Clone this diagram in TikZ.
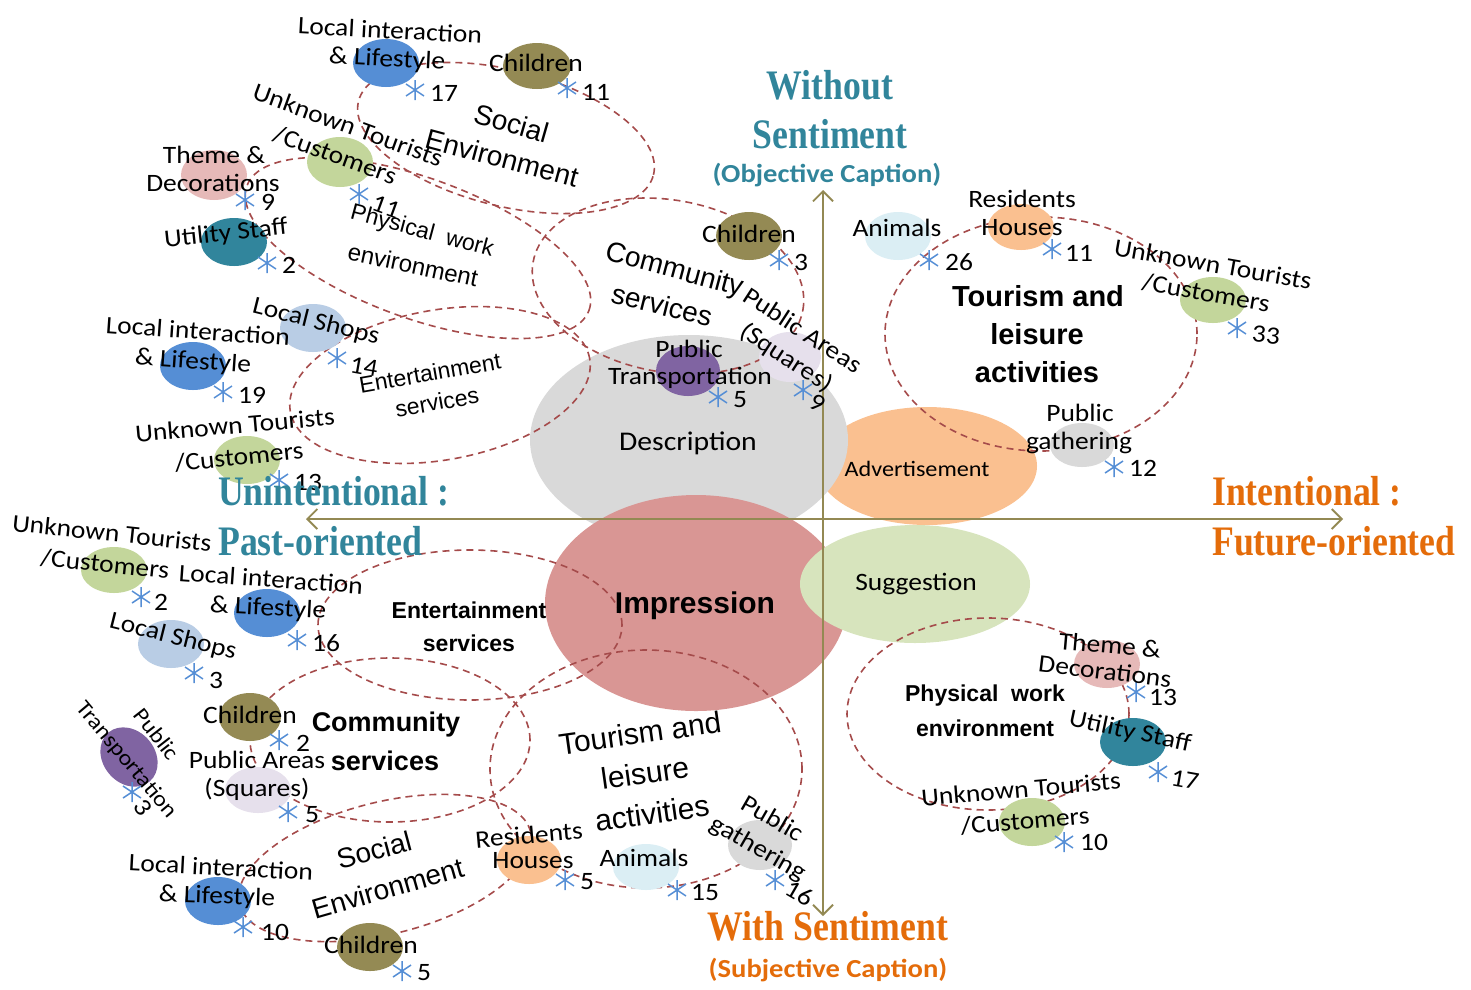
\documentclass[tikz,border=0pt]{standalone}
\usepackage{fontspec}
\setmainfont{Carlito}[FakeStretch=1.1]
\newfontfamily\titlefont{Liberation Serif}[FakeStretch=0.85]
\newfontfamily\catfont{Liberation Sans}
\usepackage{tikz}
\usetikzlibrary{arrows.meta,shapes.geometric}
\definecolor{axiscol}{RGB}{147,137,83}
\definecolor{dashcol}{RGB}{165,75,75}
\definecolor{starblue}{RGB}{85,142,213}
\definecolor{tealtxt}{RGB}{49,133,155}
\definecolor{orangetxt}{RGB}{228,108,10}
\definecolor{cDesc}{RGB}{217,217,217}
\definecolor{cAdv}{RGB}{250,192,144}
\definecolor{cImp}{RGB}{217,150,148}
\definecolor{cSug}{RGB}{215,228,189}
\definecolor{cLife}{RGB}{85,142,213}
\definecolor{cChild}{RGB}{148,138,84}
\definecolor{cTour}{RGB}{195,214,155}
\definecolor{cTheme}{RGB}{230,185,184}
\definecolor{cUtil}{RGB}{49,133,156}
\definecolor{cShop}{RGB}{185,205,229}
\definecolor{cTrans}{RGB}{128,100,162}
\definecolor{cArea}{RGB}{230,224,236}
\definecolor{cAnim}{RGB}{219,238,244}
\definecolor{cHouse}{RGB}{250,192,144}
\definecolor{cGath}{RGB}{217,217,217}
\tikzset{
	big/.style={ellipse, inner sep=0pt},
	bub/.style={ellipse, minimum width=66pt, minimum height=48pt, inner sep=0pt},
	lbl/.style={font=\fontsize{25}{28}\selectfont, inner sep=0pt},
	cat/.style={font=\catfont\fontsize{#1}{#1}\selectfont, inner sep=0pt},
	cat/.default=28,
	catb/.style={font=\catfont\bfseries\fontsize{#1}{#1}\selectfont, inner sep=0pt},
	catb/.default=28,
	grp/.style={dashcol, line width=1.6pt, dash pattern=on 7pt off 5pt},
	axis/.style={axiscol, line width=1.8pt, {Straight Barb[length=10pt,width=20pt]}-{Straight Barb[length=10pt,width=20pt]}},
	ttl/.style={font=\titlefont\bfseries\fontsize{42}{46}\selectfont, inner sep=0pt, anchor=base},
	sub/.style={font=\bfseries\fontsize{26}{30}\selectfont, inner sep=0pt, anchor=base},
	astk/.pic={\draw[starblue, line width=1.5pt] (0,-10)--(0,10) (-9,-6)--(9,6) (-9,6)--(9,-6);}
}
\begin{document}
\begin{tikzpicture}[x=1pt, y=1pt]
	\useasboundingbox (0,0) rectangle (1471,-989);
	% big bubbles
	\node[big, fill=cAdv, minimum width=220pt, minimum height=118pt] (adv) at (927,-466) {};
	\node[big, fill=cDesc, minimum width=318pt, minimum height=210pt] (desc) at (689,-440) {};
	\node[big, fill=cImp, minimum width=302pt, minimum height=216pt] (imp) at (696,-603) {};
	\node[big, fill=cSug, minimum width=230pt, minimum height=118pt] (sug) at (915,-584) {};
	% dashed groups, upper half
	\draw[grp, rotate around={-14:(506,-138)}] (506,-138) ellipse (152 and 68);
	\draw[grp, rotate around={-20:(418,-248)}] (418,-248) ellipse (182 and 70);
	\draw[grp, rotate around={10:(440,-385)}] (440,-385) ellipse (152 and 75);
	\draw[grp, rotate around={-10:(668,-286)}] (668,-286) ellipse (137 and 86);
	\draw[grp] (1041,-334) ellipse (156 and 117);
	% dashed groups, lower half
	\draw[grp] (470,-625) ellipse (152 and 75);
	\draw[grp] (390,-740) ellipse (140 and 82);
	\draw[grp, rotate around={14:(385,-868)}] (385,-868) ellipse (150 and 66);
	\draw[grp] (646,-769) ellipse (156 and 119);
	\draw[grp] (988,-714) ellipse (141 and 96);
	% axes
	\coordinate (xl) at (306,-519);
	\coordinate (xr) at (1343,-519);
	\coordinate (yt) at (823,-190);
	\coordinate (yb) at (823,-916);
	\draw[axis] (xl) -- (xr);
	\draw[axis] (yt) -- (yb);
	% small bubbles
	\node[bub, fill=cLife] (b1) at (386,-63) {};
	\node[bub, fill=cChild, minimum width=68pt, minimum height=46pt] (b2) at (537,-66) {};
	\node[bub, fill=cTour, minimum height=50pt] (b3) at (340,-162) {};
	\node[bub, fill=cTheme, minimum height=50pt] (b4) at (214,-175) {};
	\node[bub, fill=cUtil] (b5) at (234,-242) {};
	\node[bub, fill=cShop] (b6) at (313,-328) {};
	\node[bub, fill=cLife] (b7) at (193,-366) {};
	\node[bub, fill=cTour] (b8) at (247,-460) {};
	\node[bub, fill=cChild] (b9) at (749,-236) {};
	\node[bub, fill=cTrans, minimum width=64pt, minimum height=50pt] (b10) at (688,-371) {};
	\node[bub, fill=cArea, minimum width=62pt, minimum height=50pt] (b11) at (790,-357) {};
	\node[bub, fill=cAnim] (b12) at (898,-236) {};
	\node[bub, fill=cHouse, minimum height=46pt] (b13) at (1021,-227) {};
	\node[bub, fill=cTour, minimum height=46pt] (b14) at (1213,-300) {};
	\node[bub, fill=cGath, minimum width=64pt, minimum height=44pt] (b15) at (1082,-445) {};
	\node[bub, fill=cTour, minimum height=46pt] (b16) at (114,-570) {};
	\node[bub, fill=cLife] (b17) at (267,-613) {};
	\node[bub, fill=cShop] (b18) at (171,-644) {};
	\node[bub, fill=cTrans, rotate=-50, minimum width=64pt, minimum height=52pt] (b19) at (129,-757) {};
	\node[bub, fill=cChild, minimum width=62pt] (b20) at (250,-717) {};
	\node[bub, fill=cArea, minimum height=46pt] (b21) at (258,-790) {};
	\node[bub, fill=cLife] (b22) at (218,-901) {};
	\node[bub, fill=cChild] (b23) at (370,-947) {};
	\node[bub, fill=cHouse, minimum width=64pt] (b24) at (529,-860) {};
	\node[bub, fill=cAnim, minimum height=46pt] (b25) at (646,-867) {};
	\node[bub, fill=cGath, minimum width=64pt, minimum height=50pt] (b26) at (760,-845) {};
	\node[bub, fill=cTheme] (b27) at (1107,-664) {};
	\node[bub, fill=cUtil] (b28) at (1133,-742) {};
	\node[bub, fill=cTour] (b29) at (1032,-822) {};
	% stars
	\foreach \sx/\sy in {415/90, 567/88, 359/194, 245/200, 267/263, 337/358, 223/392, 279/480,
		779/260, 718/397, 803/390, 929/260, 1052/249, 1237/328, 1114/467,
		141/597, 297/640, 194/673, 132/792, 279/740, 288/812, 243/927, 402/971, 565/880, 677/890, 775/880,
		1136/692, 1158/772, 1064/842}
		\pic at (\sx,-\sy) {astk};
	% bubble texts, upper left
	\node[lbl, rotate=-3] (t1a) at (390,-30) {Local interaction};
	\node[lbl, rotate=-3] (t1b) at (387,-60) {\& Lifestyle};
	\node[lbl] (n1) at (444,-93) {17};
	\node[lbl] (t2) at (536,-63) {Children};
	\node[lbl] (n2) at (596,-92) {11};
	\node[lbl, rotate=-20] (t3a) at (348,-125) {Unknown Tourists};
	\node[lbl, rotate=-20] (t3b) at (335,-155) {/Customers};
	\node[lbl, rotate=-20] (n3) at (386,-207) {11};
	\node[lbl] (t4a) at (214,-155) {Theme \&};
	\node[lbl] (t4b) at (213,-183) {Decorations};
	\node[lbl] (n4) at (268,-202) {9};
	\node[lbl, rotate=6] (t5) at (226,-234) {Utility Staff};
	\node[lbl] (n5) at (289,-265) {2};
	\node[lbl, rotate=-14] (t6) at (316,-322) {Local Shops};
	\node[lbl, rotate=-10] (n6) at (364,-367) {14};
	\node[lbl, rotate=-4] (t7a) at (198,-331) {Local interaction};
	\node[lbl, rotate=-4] (t7b) at (193,-362) {\& Lifestyle};
	\node[lbl] (n7) at (252,-395) {19};
	\node[lbl, rotate=5] (t8a) at (235,-425) {Unknown Tourists};
	\node[lbl, rotate=6] (t8b) at (239,-457) {/Customers};
	\node[lbl] (n8) at (308,-482) {13};
	% bubble texts, upper right
	\node[lbl] (t9) at (749,-234) {Children};
	\node[lbl] (n9) at (801,-262) {3};
	\node[lbl] (t10a) at (689,-349) {Public};
	\node[lbl] (t10b) at (690,-378) {Transportation};
	\node[lbl] (n10) at (740,-400) {5};
	\node[lbl, rotate=-33] (t11a) at (803,-330) {Public Areas};
	\node[lbl, rotate=-33] (t11b) at (786,-358) {(Squares)};
	\node[lbl, rotate=-30] (n11) at (818,-403) {9};
	\node[lbl] (t12) at (897,-228) {Animals};
	\node[lbl] (n12) at (959,-262) {26};
	\node[lbl] (t13a) at (1022,-199) {Residents};
	\node[lbl] (t13b) at (1022,-228) {Houses};
	\node[lbl] (n13) at (1079,-253) {11};
	\node[lbl, rotate=-10] (t14a) at (1213,-264) {Unknown Tourists};
	\node[lbl, rotate=-10] (t14b) at (1206,-293) {/Customers};
	\node[lbl, rotate=-5] (n14) at (1266,-335) {33};
	\node[lbl] (t15a) at (1080,-413) {Public};
	\node[lbl] (t15b) at (1079,-443) {gathering};
	\node[lbl] (n15) at (1143,-468) {12};
	% bubble texts, lower left
	\node[lbl, rotate=-6] (t16a) at (112,-533) {Unknown Tourists};
	\node[lbl, rotate=-6] (t16b) at (105,-564) {/Customers};
	\node[lbl] (n16) at (161,-602) {2};
	\node[lbl, rotate=-4] (t17a) at (271,-579) {Local interaction};
	\node[lbl, rotate=-3] (t17b) at (268,-609) {\& Lifestyle};
	\node[lbl] (n17) at (326,-643) {16};
	\node[lbl, rotate=-14] (t18) at (173,-637) {Local Shops};
	\node[lbl] (n18) at (216,-680) {3};
	\node[lbl, rotate=-52, font=\fontsize{22}{24}\selectfont] (t19a) at (157,-734) {Public};
	\node[lbl, rotate=-50, font=\fontsize{22}{24}\selectfont] (t19b) at (126,-760) {Transportation};
	\node[lbl, rotate=-55] (n19) at (143,-808) {3};
	\node[lbl] (t20) at (250,-715) {Children};
	\node[lbl] (n20) at (303,-743) {2};
	\node[lbl] (t21a) at (257,-760) {Public Areas};
	\node[lbl] (t21b) at (257,-789) {(Squares)};
	\node[lbl] (n21) at (312,-815) {5};
	\node[lbl, rotate=-3] (t22a) at (221,-867) {Local interaction};
	\node[lbl, rotate=-2] (t22b) at (217,-897) {\& Lifestyle};
	\node[lbl] (n22) at (275,-932) {10};
	\node[lbl] (t23) at (371,-945) {Children};
	\node[lbl] (n23) at (424,-973) {5};
	\node[lbl, rotate=5] (t24a) at (529,-835) {Residents};
	\node[lbl] (t24b) at (533,-861) {Houses};
	\node[lbl] (n24) at (587,-882) {5};
	\node[lbl] (t25) at (644,-858) {Animals};
	\node[lbl] (n25) at (705,-893) {15};
	\node[lbl, rotate=-30] (t26a) at (773,-818) {Public};
	\node[lbl, rotate=-30] (t26b) at (758,-849) {gathering};
	\node[lbl, rotate=-30] (n26) at (800,-893) {16};
	% bubble texts, lower right
	\node[lbl, rotate=-5] (t27a) at (1110,-645) {Theme \&};
	\node[lbl, rotate=-7] (t27b) at (1105,-671) {Decorations};
	\node[lbl] (n27) at (1163,-697) {13};
	\node[lbl, rotate=-12] (t28) at (1130,-732) {Utility Staff};
	\node[lbl, rotate=-10] (n28) at (1185,-780) {17};
	\node[lbl, rotate=5] (t29a) at (1021,-789) {Unknown Tourists};
	\node[lbl, rotate=5] (t29b) at (1025,-821) {/Customers};
	\node[lbl] (n29) at (1094,-842) {10};
	% group names
	\node[cat, rotate=-16] (g1a) at (512,-123) {Social};
	\node[cat, rotate=-15] (g1b) at (502,-158) {Environment};
	\node[cat=23, rotate=-15] (g2a) at (422,-232) {Physical\ \ work};
	\node[cat=24, rotate=-12] (g2b) at (413,-265) {environment};
	\node[cat=23, rotate=10] (g3a) at (430,-373) {Entertainment};
	\node[cat=23, rotate=10] (g3b) at (437,-402) {services};
	\node[cat, rotate=-15] (g4a) at (674,-271) {Community};
	\node[cat, rotate=-14] (g4b) at (662,-305) {services};
	\node[catb=29] (g5a) at (1038,-296) {Tourism and};
	\node[catb=29] (g5b) at (1037,-334) {leisure};
	\node[catb=29] (g5c) at (1037,-372) {activities};
	\node[catb=23] (g6a) at (469,-610) {Entertainment};
	\node[catb=23] (g6b) at (469,-643) {services};
	\node[catb=27] (g7a) at (386,-725) {Community};
	\node[catb=27] (g7b) at (385,-761) {services};
	\node[cat, rotate=15] (g8a) at (374,-850) {Social};
	\node[cat, rotate=16] (g8b) at (388,-888) {Environment};
	\node[cat=30, rotate=8] (g9a) at (640,-733) {Tourism and};
	\node[cat=30, rotate=8] (g9b) at (645,-773) {leisure};
	\node[cat=30, rotate=8] (g9c) at (652,-813) {activities};
	\node[catb=23] (g10a) at (985,-696) {Physical\ \ work};
	\node[catb=23] (g10b) at (985,-728) {environment};
	% caption kinds
	\node[lbl, font=\fontsize{27}{30}\selectfont] (desct) at (688,-443) {Description};
	\node[lbl, font=\fontsize{22}{24}\selectfont] (advt) at (917,-469) {Advertisement};
	\node[catb=30] (impt) at (695,-606) {Impression};
	\node[lbl] (sugt) at (916,-584) {Suggestion};
	% axis titles
	\node[ttl, tealtxt] (wo1) at (830,-99) {Without};
	\node[ttl, tealtxt] (wo2) at (830,-148) {Sentiment};
	\node[sub, tealtxt] (wo3) at (827,-182) {(Objective Caption)};
	\node[ttl, tealtxt, anchor=base west] (un1) at (218,-505) {Unintentional :};
	\node[ttl, tealtxt, anchor=base west] (un2) at (218,-555) {Past-oriented};
	\node[ttl, orangetxt, anchor=base west] (in1) at (1212,-505) {Intentional :};
	\node[ttl, orangetxt, anchor=base west] (in2) at (1212,-555) {Future-oriented};
	\node[ttl, orangetxt] (wi1) at (828,-940) {With Sentiment};
	\node[sub, orangetxt] (wi2) at (828,-977) {(Subjective Caption)};
\end{tikzpicture}
\end{document}
